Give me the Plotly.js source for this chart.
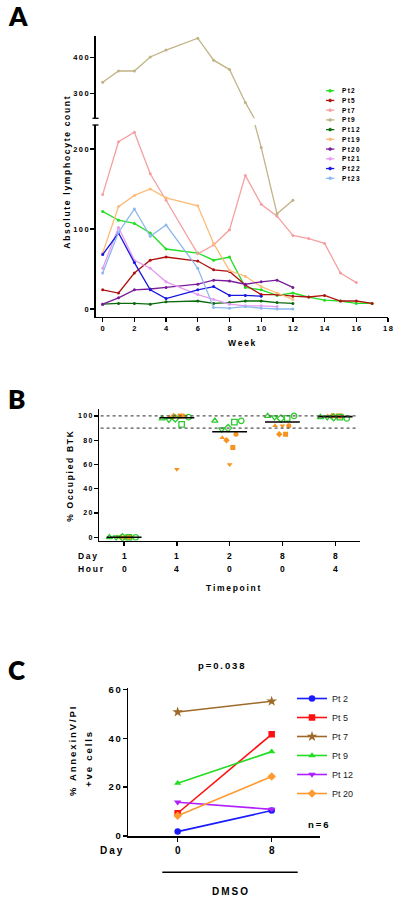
<!DOCTYPE html>
<html><head><meta charset="utf-8">
<script src="https://cdn.plot.ly/plotly-3.0.1.min.js"></script>
<style>html,body{margin:0;padding:0;background:#fff}#chart{width:401px;height:903px}</style>
</head><body><div id="chart"></div>
<script>
// ---------- Panel A data: absolute lymphocyte count by week ----------
const weeks = [0,1,2,3,4,6,7,8,9,10,11,12,13,14,15,16,17];
const pt2  = [122,111,107,95,75,70,61,65,27,24,17,20,15,11,10,7,7];
const pt5  = [24,20,45,61,65,60,49,47,30,18,18,16,15,17,10,10,7];
const pt7  = [143,209,221,169,136,69,80,99,167,131,116,92,88,82,45,33,null];
const pt9  = [331,362,362,401,420,453,392,366,275,202,119,136,null,null,null,null,null];
const pt12 = [6,7,7,6,9,10,7,8,10,10,8,7,null,null,null,null,null];
const pt19 = [70,128,142,150,139,129,82,48,41,28,20,12,null,null,null,null,null];
const pt20 = [6,14,24,25,27,31,36,35,31,34,36,27,null,null,null,null,null];
const pt21 = [51,102,61,51,34,18,12,6,4,4,3,null,null,null,null,null,null];
const pt22 = [68,95,58,24,13,24,28,17,17,16,null,null,null,null,null,null,null];
const pt23 = [45,96,125,91,105,51,2,1,3,1,0,0,null,null,null,null,null];
const patientsA = ['Pt2','Pt5','Pt7','Pt9','Pt12','Pt19','Pt20','Pt21','Pt22','Pt23'];
const countsA = [pt2,pt5,pt7,pt9,pt12,pt19,pt20,pt21,pt22,pt23];
const xTicksA = [0,2,4,6,8,10,12,14,16,18];
const yTicksLowA = [0,100,200];
const yTicksHighA = [300,400];

// ---------- Panel B data: % occupied BTK ----------
const days = [1,1,2,8,8];
const hours = [0,4,0,0,4];
const gTriUp   = [0,98,96,100,99];
const gTriDown = [0,97,89,99,99];
const gDiamond = [0,98,90,98,99];
const gSquare  = [0,93,95,98,99];
const gCircle  = [0,99,96,100,98];
const oTriUp   = [0,99,82,92,100];
const oDiamond = [0,100,80,85,100];
const oTriDown = [0,56,60,92,100];
const oSquare  = [0,100,74,85,100];
const oCircle  = [0,100,85,92,100];
const yTicksB = [0,20,40,60,80,100];
const refLinesB = [90,100];

// ---------- Panel C data: % AnnexinV/PI +ve cells ----------
const daysC = ['0','8'];
const patientsC = ['Pt 2','Pt 5','Pt 7','Pt 9','Pt 12','Pt 20'];
const cPt2  = [1.8,10.4];
const cPt5  = [9.3,41.6];
const cPt7  = [50.7,55.1];
const cPt9  = [21.6,34.5];
const cPt12 = [13.8,10.9];
const cPt20 = [8.3,24.3];
const valuesC = [cPt2,cPt5,cPt7,cPt9,cPt12,cPt20];
const yTicksC = [0,20,40,60];

// ---------- styling ----------
const W = 401, H = 903;
const px = v => v / W;
const py = v => 1 - v / H;
const sp = s => Array.from(s).join('\u2009');
const FONT = 'Liberation Sans, Arial, sans-serif';
const bold = (size, color) => ({family: FONT, size: size, color: color || '#000', weight: 700});

const colorsA = ['#22dd22','#b01212','#f5a0a0','#c0b386','#0b6a0b','#fdbb7a','#7a1c9a','#e49cf0','#1717e0','#8fb8ee'];
const colorsC = ['#1a1aff','#ff1010','#9e6a2a','#22dd22','#b020ff','#ff9a30'];
const symbolsC = ['circle','square','star','triangle-up','triangle-down','diamond'];
const GREEN = '#2ecc2e', ORANGE = '#f7931e';

const traces = [];

// Panel A traces (drawn on both halves of the broken axis, each clipped)
patientsA.forEach((name, i) => {
  ['y','y2'].forEach(ya => {
    traces.push({type:'scatter', mode:'lines+markers', x: weeks, y: countsA[i], xaxis:'x', yaxis: ya,
      line:{color: colorsA[i], width: 1.3}, marker:{color: colorsA[i], size: 3},
      showlegend:false, hoverinfo:'skip', name: name});
  });
});

// Panel B traces
const catIdx = days.map((d, i) => i);
const orangeSyms = ['triangle-up','diamond','triangle-down','square','circle'];
const orangeVals = [oTriUp,oDiamond,oTriDown,oSquare,oCircle];
const orangeOff = [-0.14,-0.06,0,0.06,0.12];
orangeVals.forEach((vals, k) => {
  traces.push({type:'scatter', mode:'markers', x: catIdx.map(i => i + orangeOff[k]), y: vals,
    xaxis:'x2', yaxis:'y3', marker:{symbol: orangeSyms[k], color: ORANGE, size: 5},
    showlegend:false, hoverinfo:'skip'});
});
const greenSyms = ['triangle-up-open','triangle-down-open','diamond-open','square-open','circle-open'];
const greenVals = [gTriUp,gTriDown,gDiamond,gSquare,gCircle];
const greenOff = [-0.28,-0.15,-0.03,0.09,0.22];
greenVals.forEach((vals, k) => {
  traces.push({type:'scatter', mode:'markers', x: catIdx.map(i => i + greenOff[k]), y: vals,
    xaxis:'x2', yaxis:'y3', marker:{symbol: greenSyms[k], color: GREEN, size: 5.5, line:{color: GREEN, width: 1.3}},
    showlegend:false, hoverinfo:'skip'});
});
const median = arr => { const s = arr.slice().sort((a,b)=>a-b); const n = s.length; return n % 2 ? s[(n-1)/2] : (s[n/2-1] + s[n/2]) / 2; };
const medX = [], medY = [];
catIdx.forEach(i => {
  const all = greenVals.concat(orangeVals).map(v => v[i]);
  const m = median(all);
  medX.push(i - 0.33, i + 0.33, null);
  medY.push(m, m, null);
});
traces.push({type:'scatter', mode:'lines', x: medX, y: medY, xaxis:'x2', yaxis:'y3',
  line:{color:'#000', width:1.6}, showlegend:false, hoverinfo:'skip'});

// Panel C traces
patientsC.forEach((name, i) => {
  traces.push({type:'scatter', mode:'lines+markers', x:[0,1], y: valuesC[i], xaxis:'x3', yaxis:'y4',
    name: name, line:{color: colorsC[i], width: 1.6},
    marker:{symbol: symbolsC[i], color: colorsC[i], size: symbolsC[i] === 'star' ? 8 : 6.5},
    showlegend: true, hoverinfo:'skip'});
});

const axisBase = {showline:true, linecolor:'#000', linewidth:1.5, ticks:'outside', ticklen:4, tickwidth:1.3,
  tickcolor:'#000', showgrid:false, zeroline:false, fixedrange:true};

const layout = {
  width: W, height: H, margin:{l:0, r:0, t:0, b:0}, paper_bgcolor:'#fff', plot_bgcolor:'rgba(0,0,0,0)',
  showlegend: true,
  legend: {x: px(292), y: py(684), xanchor:'left', yanchor:'top', bgcolor:'rgba(0,0,0,0)',
    font:{family: FONT, size: 9, color:'#222'}, traceorder:'normal'},
  xaxis: Object.assign({}, axisBase, {domain:[px(95.7), px(388)], range:[-0.44,18], anchor:'y',
    tickmode:'array', tickvals: xTicksA, ticktext: xTicksA.map(v => sp(String(v))), tickfont: bold(7.5)}),
  yaxis: Object.assign({}, axisBase, {domain:[py(316.7), py(125)], range:[-9.6,230], anchor:'x',
    tickmode:'array', tickvals: yTicksLowA, ticktext: yTicksLowA.map(v => sp(String(v))), tickfont: bold(7.5)}),
  yaxis2: Object.assign({}, axisBase, {domain:[py(118.3), py(36)], range:[231,459], anchor:'x',
    tickmode:'array', tickvals: yTicksHighA, ticktext: yTicksHighA.map(v => sp(String(v))), tickfont: bold(7.5)}),
  xaxis2: Object.assign({}, axisBase, {domain:[px(99.3), px(360)], range:[-0.47,4.47], anchor:'y3',
    tickmode:'array', tickvals: catIdx, showticklabels:false}),
  yaxis3: Object.assign({}, axisBase, {domain:[py(540.7), py(409.3)], range:[-2.8,105.5], anchor:'x2',
    tickmode:'array', tickvals: yTicksB, ticktext: yTicksB.map(v => sp(String(v))), tickfont: bold(7)}),
  xaxis3: Object.assign({}, axisBase, {domain:[px(128.3), px(320)], range:[-0.525,1.514], anchor:'y4',
    tickmode:'array', tickvals:[0,1], ticktext: daysC.map(sp), tickfont: bold(10)}),
  yaxis4: Object.assign({}, axisBase, {domain:[py(836), py(688.3)], range:[0,60.4], anchor:'x3',
    tickmode:'array', tickvals: yTicksC, ticktext: yTicksC.map(v => sp(String(v))), tickfont: bold(9.5)}),
  shapes: [],
  annotations: []
};

const ann = (text, x, y, font, extra) => layout.annotations.push(Object.assign({
  text: text, x: px(x), y: py(y), xref:'paper', yref:'paper', showarrow:false, font: font,
  xanchor:'center', yanchor:'middle'}, extra || {}));

// panel letters
['A','B','C'].forEach((L, i) => ann(L, 6, [16, 398.5, 670][i], {family:'Lato, Open Sans, sans-serif', size: 26, color:'#000', weight: 800}, {xanchor:'left'}));

// Panel A titles & break marks & legend
ann(sp('Absolute lymphocyte count'), 66.7, 173, bold(8.5), {textangle:-90});
ann(sp('Week'), 241.8, 343.3, bold(8.5));
[118.3, 125].forEach(y => layout.shapes.push({type:'line', xref:'paper', yref:'paper',
  x0: px(92.5), x1: px(98.5), y0: py(y), y1: py(y), line:{color:'#000', width:1.3}}));
patientsA.forEach((name, i) => {
  const y = 90.7 + 9.73 * i;
  layout.shapes.push({type:'line', xref:'paper', yref:'paper', x0: px(326), x1: px(334.3), y0: py(y), y1: py(y),
    line:{color: colorsA[i], width: 1.3}});
  layout.shapes.push({type:'circle', xref:'paper', yref:'paper', x0: px(328.6), x1: px(331.6), y0: py(y+1.5), y1: py(y-1.5),
    fillcolor: colorsA[i], line:{color: colorsA[i], width: 0.5}});
  ann(sp(name), 339.5, y, bold(6.5), {xanchor:'left'});
});

// Panel B reference lines, labels
refLinesB.forEach(v => layout.shapes.push({type:'line', xref:'x2 domain', yref:'y3', x0: 0.005, x1: 0.995, y0: v, y1: v,
  line:{color:'#555', width:1.2, dash:'dot'}}));
ann(sp('% Occupied BTK'), 70, 476.7, bold(8.5), {textangle:-90});
ann(sp('Day'), 76, 555.7, bold(8.5), {xanchor:'left'});
ann(sp('Hour'), 76, 569, bold(8.5), {xanchor:'left'});
catIdx.forEach(i => {
  layout.annotations.push({text: sp(String(days[i])), x: i, xref:'x2', y: py(555.7), yref:'paper', showarrow:false, font: bold(8.5), yanchor:'middle'});
  layout.annotations.push({text: sp(String(hours[i])), x: i, xref:'x2', y: py(569), yref:'paper', showarrow:false, font: bold(8.5), yanchor:'middle'});
});
ann(sp('Timepoint'), 233, 588, bold(8.5));

// Panel C labels
ann(sp('p=0.038'), 221.7, 665, bold(9.5));
ann(sp('% AnnexinV/PI'), 72, 752, bold(9.5), {textangle:-90});
ann(sp('+ve cells'), 88, 760, bold(9.5), {textangle:-90});
ann(sp('n=6'), 318, 824, bold(9.5));
ann(sp('Day'), 112, 850, bold(10));
layout.shapes.push({type:'line', xref:'paper', yref:'paper', x0: px(162.3), x1: px(297.7), y0: py(872.3), y1: py(872.3),
  line:{color:'#000', width:1.6}});
ann(sp('DMSO'), 230, 891.7, bold(10));

Plotly.newPlot('chart', traces, layout, {staticPlot:true, displayModeBar:false});
</script>
</body></html>
